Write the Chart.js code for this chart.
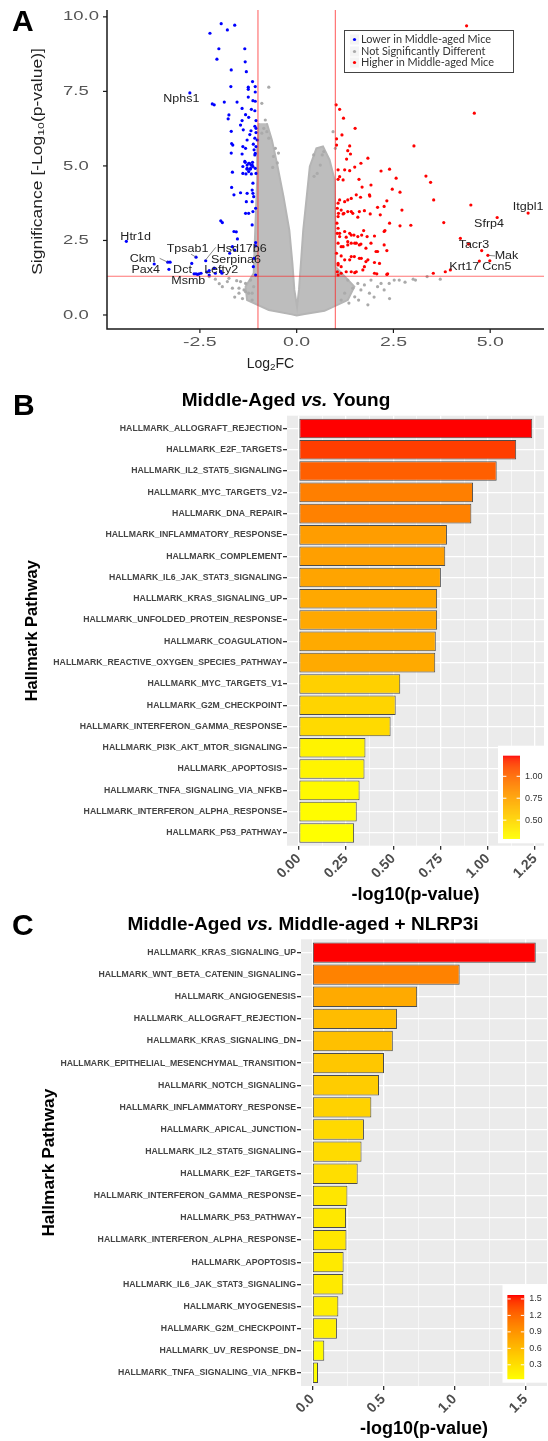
<!DOCTYPE html>
<html>
<head>
<meta charset="utf-8">
<script src="https://cdn.jsdelivr.net/npm/chart.js@4.4.0/dist/chart.umd.min.js"></script>
<style>
html, body { margin: 0; padding: 0; background: #fff; }
body { width: 548px; height: 1441px; position: relative; overflow: hidden; }
canvas { position: absolute; left: 0; }
</style>
</head>
<body>
<canvas id="volcano" width="548" height="380" style="top:0"></canvas>
<canvas id="barsB" width="548" height="530" style="top:380px"></canvas>
<canvas id="barsC" width="548" height="536" style="top:905px"></canvas>
<script>
/* ---- Panel A : volcano data (log2FC, -log10 p) ---- */
const lowerPts = [
  [-1.95,9.77],[-1.60,9.72],[-1.79,9.56],[-2.24,9.45],[-2.01,8.93],[-1.34,8.93],[-2.06,8.58],[-1.33,8.49],[-1.69,8.22],[-1.30,8.16],
  [-1.14,7.83],[-1.70,7.66],[-1.25,7.64],[-1.25,7.57],[-1.07,7.66],[-1.07,7.48],[-2.76,7.45],[-1.25,7.31],[-1.13,7.19],[-1.07,7.17],
  [-1.87,7.14],[-1.54,7.14],[-2.18,7.08],[-2.13,7.05],[-1.41,6.93],[-1.17,6.90],[-1.08,6.85],[-1.75,6.71],[-1.32,6.72],[-1.24,6.63],
  [-1.77,6.58],[-1.41,6.52],[-1.05,6.52],[-1.45,6.37],[-1.08,6.33],[-1.05,6.26],[-1.69,6.16],[-1.38,6.21],[-1.18,6.18],[-1.21,6.05],
  [-1.05,6.12],[-1.28,5.87],[-1.08,5.93],[-1.02,5.87],[-1.65,5.70],[-1.68,5.75],[-1.39,5.65],[-1.32,5.59],[-1.12,5.73],[-1.10,5.54],
  [-1.05,5.65],[-1.07,5.42],[-1.08,5.37],[-1.69,5.43],[-1.41,5.40],[-1.33,5.12],[-1.24,5.09],[-1.18,5.03],[-1.14,5.12],[-1.34,5.15],
  [-1.28,5.03],[-1.22,5.09],[-1.15,5.03],[-1.39,4.98],[-1.28,4.89],[-1.19,4.92],[-1.07,4.92],[-1.24,4.81],[-1.05,4.75],[-1.28,4.92],
  [-1.20,4.89],[-1.13,4.98],[-1.66,4.79],[-1.39,4.75],[-1.31,4.73],[-1.17,4.73],[-1.13,4.42],[-1.68,4.28],[-1.62,4.03],[-1.45,4.10],
  [-1.28,4.08],[-1.15,4.19],[-1.13,4.08],[-1.11,3.97],[-1.30,3.80],[-1.15,3.80],[-1.06,3.58],[-1.13,3.47],[-1.24,3.41],[-1.32,3.41],
  [-1.96,3.16],[-1.92,3.10],[-1.15,3.02],[-1.62,2.80],[-1.56,2.79],[-1.53,2.55],[-1.06,2.43],[-1.06,2.32],[-4.40,2.47],[-1.66,2.29],
  [-1.60,2.18],[-1.73,2.07],[-1.10,1.90],[-2.60,1.94],[-2.35,1.82],[-3.33,1.77],[-3.27,1.77],[-3.68,1.71],[-3.30,1.53],[-2.71,1.73],
  [-2.65,1.38],[-2.60,1.38],[-2.56,1.36],[-2.52,1.38],[-2.47,1.40],[-2.32,1.44],[-2.26,1.49],[-2.13,1.57],[-2.26,1.34],[-2.10,1.40],
  [-1.96,1.46],[-1.93,1.40],[-1.06,1.34],[-1.12,1.62]
];
const higherPts = [
  [4.39,9.70],[4.59,6.77],[3.03,5.67],[1.02,7.05],[1.11,6.90],[1.21,6.60],[1.51,6.26],[1.17,6.04],[1.03,5.91],[1.37,5.67],
  [1.32,5.51],[1.03,5.70],[1.39,5.40],[1.84,5.26],[1.66,5.09],[1.29,5.23],[1.50,4.96],[1.37,4.84],[1.07,4.87],[1.24,4.87],
  [2.18,4.83],[2.40,4.89],[3.34,4.66],[3.46,4.45],[2.57,4.59],[1.61,4.55],[1.07,4.55],[1.20,4.53],[1.11,4.64],[1.69,4.29],
  [1.92,4.36],[2.47,4.22],[2.67,4.12],[3.54,3.86],[2.33,3.83],[1.89,3.99],[1.65,3.95],[1.54,4.03],[1.88,4.03],[1.41,3.91],
  [1.32,3.86],[1.11,3.86],[1.24,3.80],[1.07,3.75],[4.50,3.69],[2.09,3.61],[2.26,3.64],[2.72,3.52],[1.75,3.50],[1.62,3.47],
  [1.41,3.47],[1.32,3.47],[1.45,3.41],[1.22,3.41],[1.15,3.52],[1.05,3.58],[1.08,3.41],[2.16,3.36],[1.90,3.39],[1.58,3.28],
  [1.20,3.39],[1.07,3.30],[5.18,3.27],[5.98,3.42],[2.40,3.08],[2.67,2.99],[2.95,3.01],[3.80,3.10],[1.04,3.08],[1.07,2.91],
  [2.28,2.83],[1.73,2.83],[2.26,2.80],[1.24,2.80],[1.05,2.74],[1.11,2.74],[1.37,2.74],[1.48,2.68],[1.68,2.68],[1.41,2.68],
  [2.01,2.65],[1.82,2.63],[1.58,2.63],[1.28,2.61],[1.11,2.63],[4.23,2.57],[4.44,2.38],[1.32,2.46],[1.50,2.41],[1.66,2.38],
  [1.92,2.41],[1.07,2.41],[1.41,2.41],[1.54,2.41],[1.20,2.29],[1.15,2.29],[1.32,2.35],[1.62,2.35],[2.26,2.35],[1.79,2.24],
  [2.33,2.16],[2.09,2.13],[2.05,2.13],[4.78,2.16],[4.94,2.00],[1.03,2.07],[1.15,1.98],[1.41,1.96],[1.49,1.96],[1.62,1.90],
  [1.67,1.90],[1.24,1.85],[1.37,1.85],[1.84,1.85],[4.72,1.81],[4.99,1.82],[1.79,1.79],[2.01,1.76],[2.14,1.73],[1.07,1.73],
  [1.07,1.68],[1.75,1.62],[1.15,1.62],[3.97,1.51],[3.84,1.45],[1.71,1.51],[1.28,1.45],[1.41,1.45],[1.54,1.45],[1.05,1.45],
  [1.50,1.42],[1.15,1.40],[2.01,1.40],[3.53,1.40],[2.35,1.38],[2.07,1.38],[2.33,1.36],[1.07,1.34]
];
const notSigPts = [
  [-0.72,7.64],[-0.90,7.10],[-0.81,6.54],[-0.85,6.26],[-0.77,6.15],[-0.90,6.10],[-0.72,5.93],[-0.55,5.59],[-0.47,5.43],[-0.60,5.32],
  [-0.50,5.10],[-0.62,4.95],[0.94,6.15],[1.00,5.59],[0.66,5.37],[0.70,5.48],[0.44,5.37],[0.61,5.03],[0.53,4.75],[0.45,4.65],
  [-1.49,0.90],[-1.36,0.84],[-1.32,1.06],[-1.24,0.73],[-1.11,0.95],[-1.15,0.50],[-1.19,1.17],[1.32,1.17],[1.45,0.90],[1.58,1.06],
  [1.75,1.01],[1.88,0.73],[1.92,1.17],[2.09,0.95],[2.26,0.84],[2.39,1.06],[2.52,1.17],[1.84,0.34],[1.50,0.61],[1.24,0.73],
  [1.15,0.50],[2.18,1.06],[2.65,1.17],[3.07,1.17],[3.37,1.29],[3.71,1.20],[1.66,0.84],[3.01,1.20],[2.80,1.10],[-1.92,0.95],
  [-1.79,1.12],[-1.66,0.90],[-1.55,1.15],[-1.45,1.12],[-1.32,0.78],[-1.49,0.73],[-1.15,0.73],[-2.26,1.29],[-2.10,1.20],[-1.75,1.23],
  [-2.00,1.05],[-1.60,0.60],[-1.40,0.55],[1.35,0.40],[1.60,0.50],[2.00,0.60],[2.40,0.55]
];
// outline of the dense grey V-shaped cloud
const cloudOutline = [
  [-0.98,6.43],[-1.00,5.65],[-1.02,4.53],[-1.07,2.85],[-1.11,1.40],[-1.32,0.95],[-1.28,0.50],[-0.72,0.17],[-0.13,0.02],[0.00,-0.02],
  [0.21,0.03],[0.72,0.14],[1.32,0.50],[1.49,0.95],[1.24,1.29],[1.00,1.62],[1.00,2.85],[0.98,4.53],[0.85,5.20],[0.68,5.65],
  [0.51,5.59],[0.34,4.98],[0.26,3.97],[0.17,2.85],[0.11,1.73],[0.06,0.84],[0.01,0.28],[-0.06,0.84],[-0.11,1.73],[-0.19,2.85],
  [-0.34,3.97],[-0.51,5.09],[-0.64,5.87],[-0.77,6.43]
];
const fcCut = [-1, 1];
const pCut = 1.3;
const volX = [-2.5, 0, 2.5, 5];
const volXLabels = ['-2.5', '0.0', '2.5', '5.0'];
const volY = [0, 2.5, 5, 7.5, 10];
const volYLabels = ['0.0', '2.5', '5.0', '7.5', '10.0'];
const geneNames = ['Nphs1','Htr1d','Tpsab1','Hsd17b6','Ckm','Serpina6','Pax4','Dct','Lefty2','Msmb',
                   'Itgbl1','Sfrp4','Tacr3','Mak','Krt17','Ccn5'];
const geneX = [-2.98,-4.16,-2.82,-1.42,-3.98,-1.57,-3.90,-2.95,-1.95,-2.80, 5.98,4.97,4.58,5.42,4.33,5.17];
const geneY = [7.25,2.62,2.21,2.21,1.87,1.85,1.49,1.49,1.49,1.12, 3.60,3.04,2.35,1.98,1.60,1.60];
const legendA = ['Lower in Middle-aged Mice', 'Not Significantly Different', 'Higher in Middle-aged Mice'];

/* ---- Panel B ---- */
const pathwaysB = ['HALLMARK_ALLOGRAFT_REJECTION','HALLMARK_E2F_TARGETS','HALLMARK_IL2_STAT5_SIGNALING','HALLMARK_MYC_TARGETS_V2',
  'HALLMARK_DNA_REPAIR','HALLMARK_INFLAMMATORY_RESPONSE','HALLMARK_COMPLEMENT','HALLMARK_IL6_JAK_STAT3_SIGNALING',
  'HALLMARK_KRAS_SIGNALING_UP','HALLMARK_UNFOLDED_PROTEIN_RESPONSE','HALLMARK_COAGULATION','HALLMARK_REACTIVE_OXYGEN_SPECIES_PATHWAY',
  'HALLMARK_MYC_TARGETS_V1','HALLMARK_G2M_CHECKPOINT','HALLMARK_INTERFERON_GAMMA_RESPONSE','HALLMARK_PI3K_AKT_MTOR_SIGNALING',
  'HALLMARK_APOPTOSIS','HALLMARK_TNFA_SIGNALING_VIA_NFKB','HALLMARK_INTERFERON_ALPHA_RESPONSE','HALLMARK_P53_PATHWAY'];
const valuesB = [1.235,1.150,1.047,0.922,0.913,0.784,0.775,0.752,0.732,0.732,0.725,0.722,0.537,0.513,0.486,0.353,0.348,0.322,0.307,0.293];
const xTicksB = [0, 0.25, 0.5, 0.75, 1, 1.25];
const xLabelsB = ['0.00','0.25','0.50','0.75','1.00','1.25'];
const legTicksB = [0.5, 0.75, 1.0];
const legLabelsB = ['0.50','0.75','1.00'];

/* ---- Panel C ---- */
const pathwaysC = ['HALLMARK_KRAS_SIGNALING_UP','HALLMARK_WNT_BETA_CATENIN_SIGNALING','HALLMARK_ANGIOGENESIS','HALLMARK_ALLOGRAFT_REJECTION',
  'HALLMARK_KRAS_SIGNALING_DN','HALLMARK_EPITHELIAL_MESENCHYMAL_TRANSITION','HALLMARK_NOTCH_SIGNALING','HALLMARK_INFLAMMATORY_RESPONSE',
  'HALLMARK_APICAL_JUNCTION','HALLMARK_IL2_STAT5_SIGNALING','HALLMARK_E2F_TARGETS','HALLMARK_INTERFERON_GAMMA_RESPONSE',
  'HALLMARK_P53_PATHWAY','HALLMARK_INTERFERON_ALPHA_RESPONSE','HALLMARK_APOPTOSIS','HALLMARK_IL6_JAK_STAT3_SIGNALING',
  'HALLMARK_MYOGENESIS','HALLMARK_G2M_CHECKPOINT','HALLMARK_UV_RESPONSE_DN','HALLMARK_TNFA_SIGNALING_VIA_NFKB'];
const valuesC = [1.572,1.037,0.738,0.596,0.567,0.505,0.470,0.416,0.364,0.347,0.320,0.248,0.238,0.241,0.221,0.219,0.184,0.174,0.085,0.041];
const xTicksC = [0, 0.5, 1, 1.5];
const xLabelsC = ['0.0','0.5','1.0','1.5'];
const legTicksC = [0.3, 0.6, 0.9, 1.2, 1.5];
const legLabelsC = ['0.3','0.6','0.9','1.2','1.5'];

const FONT = "'Liberation Sans', Arial, Helvetica, sans-serif";

/* ---- colour helpers: ggplot-like yellow -> red gradient in Lab ---- */
function toLab(rgb) {
  const lin = c => { c /= 255; return c <= 0.04045 ? c / 12.92 : Math.pow((c + 0.055) / 1.055, 2.4); };
  const [r, g, b] = rgb.map(lin);
  const X = (0.4124 * r + 0.3576 * g + 0.1805 * b) / 0.95047;
  const Y = 0.2126 * r + 0.7152 * g + 0.0722 * b;
  const Z = (0.0193 * r + 0.1192 * g + 0.9505 * b) / 1.08883;
  const f = t => t > 0.008856 ? Math.cbrt(t) : 7.787 * t + 16 / 116;
  return [116 * f(Y) - 16, 500 * (f(X) - f(Y)), 200 * (f(Y) - f(Z))];
}
function fromLab([L, a, b]) {
  const fy = (L + 16) / 116, fx = fy + a / 500, fz = fy - b / 200;
  const inv = t => t * t * t > 0.008856 ? t * t * t : (t - 16 / 116) / 7.787;
  const X = 0.95047 * inv(fx), Y = inv(fy), Z = 1.08883 * inv(fz);
  const gam = c => { c = c <= 0.0031308 ? 12.92 * c : 1.055 * Math.pow(c, 1 / 2.4) - 0.055; return Math.round(Math.max(0, Math.min(1, c)) * 255); };
  return [gam(3.2406 * X - 1.5372 * Y - 0.4986 * Z), gam(-0.9689 * X + 1.8758 * Y + 0.0415 * Z), gam(0.0557 * X - 0.2040 * Y + 1.0570 * Z)];
}
const LAB_LOW = toLab([255, 255, 0]), LAB_HIGH = toLab([255, 0, 0]);
function gradColor(t) {
  t = Math.max(0, Math.min(1, t));
  const c = fromLab(LAB_LOW.map((v, i) => v + (LAB_HIGH[i] - v) * t));
  return `rgb(${c[0]},${c[1]},${c[2]})`;
}

/* ---- text helpers ---- */
function stretchText(ctx, str, x, y, size, sx, align, color, weight, family) {
  ctx.save();
  ctx.font = `${weight || 'normal'} ${size}px ${family || FONT}`;
  ctx.fillStyle = color;
  ctx.textBaseline = 'middle';
  ctx.textAlign = 'left';
  const w = ctx.measureText(str).width * sx;
  const x0 = align === 'center' ? x - w / 2 : align === 'right' ? x - w : x;
  ctx.translate(x0, y);
  ctx.scale(sx, 1);
  ctx.fillText(str, 0, 0);
  ctx.restore();
}
// pieces: [{t, sub}] drawn centred at origin (already translated)
function drawPieces(ctx, pieces, size, color) {
  const fontFor = p => `${p.sub ? size * 0.7 : size}px ${FONT}`;
  let w = 0;
  pieces.forEach(p => { ctx.font = fontFor(p); w += ctx.measureText(p.t).width; });
  let x = -w / 2;
  ctx.fillStyle = color; ctx.textBaseline = 'middle'; ctx.textAlign = 'left';
  pieces.forEach(p => {
    ctx.font = fontFor(p);
    ctx.fillText(p.t, x, p.sub ? size * 0.25 : 0);
    x += ctx.measureText(p.t).width;
  });
}

/* ---- Panel A ---- */
const volcanoDecor = {
  id: 'volcanoDecor',
  afterDatasetsDraw(chart) {
    const { ctx, chartArea: a, scales: { x, y } } = chart;
    ctx.save();
    ctx.strokeStyle = 'rgba(255,30,30,0.62)';
    ctx.lineWidth = 1.2;
    fcCut.forEach(v => {
      const px = x.getPixelForValue(v);
      ctx.beginPath(); ctx.moveTo(px, a.top); ctx.lineTo(px, a.bottom); ctx.stroke();
    });
    const py = y.getPixelForValue(pCut);
    ctx.beginPath(); ctx.moveTo(a.left, py); ctx.lineTo(a.right, py); ctx.stroke();

    // label connectors (label side -> point)
    const seg = [[-3.54, 1.90, -3.33, 1.77], [-2.73, 2.04, -2.60, 1.94], [-2.09, 2.27, -2.35, 1.85], [5.13, 1.98, 4.96, 2.00]];
    ctx.strokeStyle = '#555'; ctx.lineWidth = 0.7;
    seg.forEach(s => {
      ctx.beginPath();
      ctx.moveTo(x.getPixelForValue(s[0]), y.getPixelForValue(s[1]));
      ctx.lineTo(x.getPixelForValue(s[2]), y.getPixelForValue(s[3]));
      ctx.stroke();
    });
    geneNames.forEach((g, i) => {
      stretchText(ctx, g, x.getPixelForValue(geneX[i]), y.getPixelForValue(geneY[i]), 10, 1.25, 'center', '#222');
    });
    ctx.restore();
  },
  afterDraw(chart) {
    const { ctx, chartArea: a, scales: { x, y } } = chart;
    ctx.save();
    // axis lines
    ctx.strokeStyle = '#1a1a1a'; ctx.lineWidth = 1.5;
    ctx.beginPath(); ctx.moveTo(a.left, a.top); ctx.lineTo(a.left, a.bottom); ctx.lineTo(a.right, a.bottom); ctx.stroke();
    ctx.lineWidth = 1.2;
    volY.forEach((v, i) => {
      const py = y.getPixelForValue(v);
      ctx.beginPath(); ctx.moveTo(a.left - 4, py); ctx.lineTo(a.left, py); ctx.stroke();
      stretchText(ctx, volYLabels[i], a.left - 44, py, 13, 1.42, 'left', '#555');
    });
    volX.forEach((v, i) => {
      const px = x.getPixelForValue(v);
      ctx.beginPath(); ctx.moveTo(px, a.bottom); ctx.lineTo(px, a.bottom + 4); ctx.stroke();
      stretchText(ctx, volXLabels[i], px, a.bottom + 13, 13, 1.5, 'center', '#555');
    });
    // axis titles
    ctx.save();
    ctx.translate(270.5, 364);
    drawPieces(ctx, [{ t: 'Log' }, { t: '2', sub: true }, { t: 'FC' }], 14, '#222');
    ctx.restore();
    ctx.save();
    ctx.translate(38, 161.5);
    ctx.rotate(-Math.PI / 2);
    ctx.scale(1.25, 1);
    drawPieces(ctx, [{ t: 'Significance [-Log' }, { t: '10', sub: true }, { t: '(p-value)]' }], 14, '#222');
    ctx.restore();
    // legend box
    ctx.fillStyle = '#fff'; ctx.fillRect(344, 30.5, 169, 42);
    ctx.strokeStyle = '#444'; ctx.lineWidth = 1; ctx.strokeRect(344.5, 30.5, 169, 42);
    const legCols = ['#0000ff', '#aaaaaa', '#ff0000'];
    const legRows = [39.5, 51.5, 62.5];
    legendA.forEach((t, i) => {
      ctx.fillStyle = '#f4f4f4'; ctx.fillRect(350, legRows[i] - 5, 9, 10);
      ctx.fillStyle = legCols[i];
      ctx.beginPath(); ctx.arc(354.5, legRows[i], 1.6, 0, Math.PI * 2); ctx.fill();
      stretchText(ctx, t, 361, legRows[i], 10.9, 1, 'left', '#333', 'normal', "Lato, 'Open Sans', sans-serif");
    });
    // panel letter
    ctx.fillStyle = '#000'; ctx.font = `bold 30px ${FONT}`; ctx.textBaseline = 'alphabetic'; ctx.textAlign = 'left';
    ctx.fillText('A', 12, 31);
    ctx.restore();
  }
};

const toXY = arr => arr.map(p => ({ x: p[0], y: p[1] }));
new Chart(document.getElementById('volcano'), {
  type: 'scatter',
  data: {
    datasets: [
      { data: toXY(lowerPts), backgroundColor: '#0000ff', pointRadius: 1.6, borderWidth: 0, order: 0 },
      { data: toXY(higherPts), backgroundColor: '#ff0000', pointRadius: 1.6, borderWidth: 0, order: 0 },
      { data: toXY(notSigPts), backgroundColor: '#aaaaaa', pointRadius: 1.6, borderWidth: 0, order: 1 },
      { data: toXY(cloudOutline), showLine: true, fill: 'shape', backgroundColor: '#bdbdbd',
        borderColor: '#b5b5b5', borderWidth: 2, pointRadius: 0, order: 2 }
    ]
  },
  options: {
    responsive: false, animation: false, devicePixelRatio: 1,
    layout: { padding: { left: 107, top: 10, right: 0, bottom: 51 } },
    plugins: { legend: { display: false }, tooltip: { enabled: false } },
    scales: {
      x: { type: 'linear', display: false, min: -4.90, max: 6.39 },
      y: { type: 'linear', display: false, min: -0.47, max: 10.23 }
    }
  },
  plugins: [volcanoDecor]
});

/* ---- Panels B and C ---- */
const panelBg = {
  id: 'panelBg',
  beforeDraw(chart) {
    const { ctx, chartArea: a } = chart;
    ctx.save(); ctx.fillStyle = '#ebebeb';
    ctx.fillRect(a.left, a.top, a.right - a.left, a.bottom - a.top);
    ctx.restore();
  }
};

function makeBars(id, names, vals, cfg) {
  const vmin = Math.min(...vals), vmax = Math.max(...vals);
  const step = cfg.xTicks[1] - cfg.xTicks[0];
  const allTicks = [];
  cfg.xTicks.forEach((v, i) => { allTicks.push(v); if (i < cfg.xTicks.length - 1) allTicks.push(v + step / 2); });
  const isMajor = v => cfg.xTicks.some(t => Math.abs(t - v) < 1e-9);

  const decor = {
    id: 'barDecor',
    afterDraw(chart) {
      const { ctx } = chart;
      ctx.save();
      // title with italic "vs."
      const pieces = [{ t: cfg.title[0], f: 'bold' }, { t: 'vs.', f: 'italic bold' }, { t: cfg.title[1], f: 'bold' }];
      let w = 0;
      pieces.forEach(p => { ctx.font = `${p.f} 19px ${FONT}`; w += ctx.measureText(p.t).width; });
      let x = cfg.titleX - w / 2;
      ctx.fillStyle = '#000'; ctx.textBaseline = 'middle'; ctx.textAlign = 'left';
      pieces.forEach(p => { ctx.font = `${p.f} 19px ${FONT}`; ctx.fillText(p.t, x, cfg.titleY); x += ctx.measureText(p.t).width; });
      // panel letter
      ctx.font = `bold 30px ${FONT}`; ctx.textBaseline = 'alphabetic';
      ctx.fillText(cfg.letter, cfg.letterX, cfg.letterY);
      // colour bar legend
      const L = cfg.leg;
      ctx.fillStyle = '#fff'; ctx.fillRect(L.bx0, L.by0, L.bx1 - L.bx0, L.by1 - L.by0);
      const h = L.y1 - L.y0;
      for (let r = 0; r < h; r += 1) {
        ctx.fillStyle = gradColor(1 - r / h);
        ctx.fillRect(L.x0, L.y0 + r, L.x1 - L.x0, 1.2);
      }
      const posFor = v => L.y1 - (v - vmin) / (vmax - vmin) * h;
      ctx.strokeStyle = '#fff'; ctx.lineWidth = 1;
      ctx.font = `9px ${FONT}`; ctx.textBaseline = 'middle';
      cfg.legTicks.forEach((v, i) => {
        const py = posFor(v);
        const tl = (L.x1 - L.x0) / 5;
        ctx.beginPath(); ctx.moveTo(L.x0, py); ctx.lineTo(L.x0 + tl, py);
        ctx.moveTo(L.x1 - tl, py); ctx.lineTo(L.x1, py); ctx.stroke();
        ctx.fillStyle = '#333';
        ctx.fillText(cfg.legLabels[i], L.x1 + 5, py);
      });
      ctx.restore();
    }
  };

  return new Chart(document.getElementById(id), {
    type: 'bar',
    data: {
      datasets: [{
        data: vals.map((v, i) => ({ x: v, y: i })),
        backgroundColor: vals.map(v => gradColor((v - vmin) / (vmax - vmin))),
        borderColor: '#4d4d4d', borderWidth: 1, borderSkipped: false,
        categoryPercentage: 1, barPercentage: 0.92
      }]
    },
    options: {
      indexAxis: 'y', responsive: false, animation: false, devicePixelRatio: 1,
      layout: { padding: { top: cfg.padTop, right: 1, bottom: 0, left: 0 } },
      plugins: { legend: { display: false }, tooltip: { enabled: false } },
      scales: {
        x: {
          type: 'linear', min: cfg.xMin, max: cfg.xMax, offset: false,
          afterBuildTicks: s => { s.ticks = allTicks.map(v => ({ value: v })); },
          afterFit: s => { s.height = cfg.xHeight; },
          border: { display: false },
          grid: {
            offset: false,
            color: '#ffffff',
            lineWidth: c => (c.tick && isMajor(c.tick.value)) ? 1.3 : 0.6,
            tickColor: c => (c.tick && isMajor(c.tick.value)) ? '#333' : 'rgba(0,0,0,0)',
            tickLength: 4
          },
          ticks: {
            autoSkip: false, minRotation: 45, maxRotation: 45, padding: 1, color: '#4d4d4d',
            font: { family: FONT, size: 14, weight: 'bold' },
            callback: v => { const k = cfg.xTicks.findIndex(t => Math.abs(t - v) < 1e-9); return k >= 0 ? cfg.xLabels[k] : ''; }
          },
          title: { display: true, text: '-log10(p-value)', color: '#000', font: { family: FONT, size: 18, weight: 'bold' },
                   padding: { top: 0, bottom: cfg.xTitlePad } }
        },
        y: {
          type: 'linear', min: -0.6, max: names.length - 0.4, reverse: true, offset: false,
          afterBuildTicks: s => { s.ticks = names.map((_, i) => ({ value: i })); },
          afterFit: s => { s.width = cfg.yWidth; },
          border: { display: false },
          grid: { offset: false, color: '#ffffff', lineWidth: 1.3, tickColor: '#333', tickLength: 4 },
          ticks: { autoSkip: false, padding: 1, color: '#444', font: { family: FONT, size: 8.7, weight: 'bold' },
                   callback: v => names[Math.round(v)] },
          title: { display: true, text: 'Hallmark Pathway', color: '#000', font: { family: FONT, size: cfg.yTitleSize, weight: 'bold' },
                   padding: { top: cfg.yTitlePad, bottom: 0 } }
        }
      }
    },
    plugins: [panelBg, decor]
  });
}

makeBars('barsB', pathwaysB, valuesB, {
  xMin: -0.0618, xMax: 1.297, xTicks: xTicksB, xLabels: xLabelsB,
  padTop: 35.7, xHeight: 64.3, yWidth: 287, xTitlePad: 4.2, yTitlePad: 22.6, yTitleSize: 16.5,
  title: ['Middle-Aged ', ' Young'], titleX: 286, titleY: 21,
  letter: 'B', letterX: 13, letterY: 34.5,
  legTicks: legTicksB, legLabels: legLabelsB,
  leg: { bx0: 498, bx1: 547, by0: 365.7, by1: 463.3, x0: 503, x1: 520, y0: 375.7, y1: 458.3 }
});

makeBars('barsC', pathwaysC, valuesC, {
  xMin: -0.0786, xMax: 1.651, xTicks: xTicksC, xLabels: xLabelsC,
  padTop: 34.3, xHeight: 55, yWidth: 301, xTitlePad: 0.9, yTitlePad: 38.6, yTitleSize: 17.3,
  title: ['Middle-Aged ', ' Middle-aged + NLRP3i'], titleX: 303, titleY: 19.5,
  letter: 'C', letterX: 12, letterY: 29.5,
  legTicks: legTicksC, legLabels: legLabelsC,
  leg: { bx0: 502.5, bx1: 547, by0: 380, by1: 477.7, x0: 507.4, x1: 524.2, y0: 390, y1: 474 }
});
</script>
</body>
</html>
